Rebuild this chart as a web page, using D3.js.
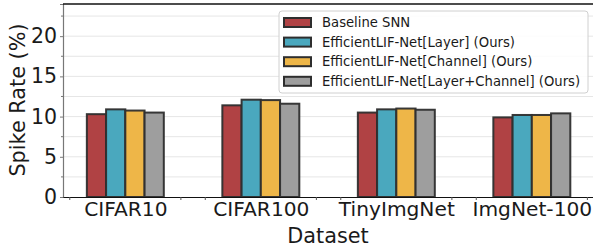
<!DOCTYPE html>
<html><head><meta charset="utf-8">
<script src="https://cdn.jsdelivr.net/npm/d3@7"></script>
<style>body{margin:0;background:#fff}svg{display:block}text{font-family:"DejaVu Sans",sans-serif}</style>
</head><body>
<script>
const categories = ["CIFAR10", "CIFAR100", "TinyImgNet", "ImgNet-100"];
const seriesNames = ["Baseline SNN", "EfficientLIF-Net[Layer] (Ours)", "EfficientLIF-Net[Channel] (Ours)", "EfficientLIF-Net[Layer+Channel] (Ours)"];
const baseline = [10.3, 11.4, 10.5, 9.9];
const layer = [10.9, 12.1, 10.9, 10.2];
const channel = [10.75, 12.05, 11.0, 10.2];
const layerChannel = [10.5, 11.6, 10.85, 10.4];
const yTicks = [0, 5, 10, 15, 20];
const colors = ["#b04244", "#4aa8be", "#eeb648", "#9e9e9e"];
const series = [baseline, layer, channel, layerChannel];

(function () {
const W = 593, H = 248;
const svg = d3.select("body").append("svg").attr("width", W).attr("height", H);
const pLeft = 63, pTop = 4, pBottom = 197;
const x = d3.scaleLinear().domain([-0.46, 3.45]).range([pLeft, pLeft + 3.91 * 135.5]);
const y = d3.scaleLinear().domain([0, 24]).range([pBottom, pTop]);
const bw = 0.142;
const txt = "#1a1a1a";

const gridVals = d3.range(2.5, 24, 2.5);
svg.append("g").selectAll("line").data(gridVals).join("line")
  .attr("x1", pLeft).attr("x2", W).attr("y1", d => y(d)).attr("y2", d => y(d))
  .attr("stroke", "#e6e6e6").attr("stroke-width", 1);

series.forEach((vals, s) => {
  svg.append("g").selectAll("rect").data(vals).join("rect")
    .attr("x", (d, i) => x(i + (s - 1.5) * bw - bw / 2))
    .attr("width", x(bw) - x(0))
    .attr("y", d => y(d))
    .attr("height", d => y(0) - y(d))
    .attr("fill", colors[s])
    .attr("stroke", "#2e2e2e").attr("stroke-width", 2).attr("stroke-opacity", 0.95);
});

const yAxis = d3.axisLeft(y).tickValues(yTicks).tickSize(3).tickPadding(3).tickFormat(d3.format("d"));
const gy = svg.append("g").attr("transform", `translate(${pLeft},0)`).call(yAxis);
gy.select(".domain").attr("stroke", "#777").attr("stroke-width", 1.2);
gy.selectAll(".tick line").attr("stroke", "#777");
gy.selectAll("text").attr("font-size", 20.5).attr("fill", txt);
svg.append("g").selectAll("line").data(d3.range(2.5, 24, 5)).join("line")
  .attr("x1", pLeft - 2).attr("x2", pLeft).attr("y1", d => y(d)).attr("y2", d => y(d)).attr("stroke", "#777");

const xAxis = d3.axisBottom(x).tickValues(d3.range(categories.length)).tickSize(0).tickPadding(5)
  .tickFormat((d, i) => categories[i]);
const gx = svg.append("g").attr("transform", `translate(0,${pBottom})`).call(xAxis);
gx.select(".domain").attr("stroke", "#111").attr("stroke-width", 1.2);
gx.selectAll("text").attr("font-size", 20.2).attr("fill", txt);
const minorX = [];
categories.forEach((c, i) => { minorX.push(i - 0.41, i + 0.41); });
svg.append("g").selectAll("line").data(minorX).join("line")
  .attr("x1", d => x(d)).attr("x2", d => x(d)).attr("y1", pBottom).attr("y2", pBottom + 3).attr("stroke", "#555");

svg.append("line").attr("x1", pLeft).attr("x2", W).attr("y1", pTop).attr("y2", pTop)
  .attr("stroke", "#111").attr("stroke-width", 1.5);

svg.append("text").attr("transform", `translate(25,100) rotate(-90)`).attr("text-anchor", "middle")
  .attr("font-size", 20.8).attr("fill", txt).text("Spike Rate (%)");
svg.append("text").attr("x", 328).attr("y", 243).attr("text-anchor", "middle")
  .attr("font-size", 20.8).attr("fill", txt).text("Dataset");

const lg = svg.append("g");
lg.append("rect").attr("x", 279).attr("y", 11).attr("width", 309).attr("height", 82).attr("rx", 3)
  .attr("fill", "#fff").attr("fill-opacity", 0.85).attr("stroke", "#d0d0d0");
seriesNames.forEach((n, s) => {
  const cy = 22.5 + s * 19.6;
  lg.append("rect").attr("x", 284).attr("y", cy - 4.5).attr("width", 27).attr("height", 9)
    .attr("fill", colors[s]).attr("stroke", "#2e2e2e").attr("stroke-width", 2);
  lg.append("text").attr("x", 322).attr("y", cy + 4.6).attr("font-size", 13.2).attr("fill", txt).text(n);
});
})();
</script>
</body></html>
